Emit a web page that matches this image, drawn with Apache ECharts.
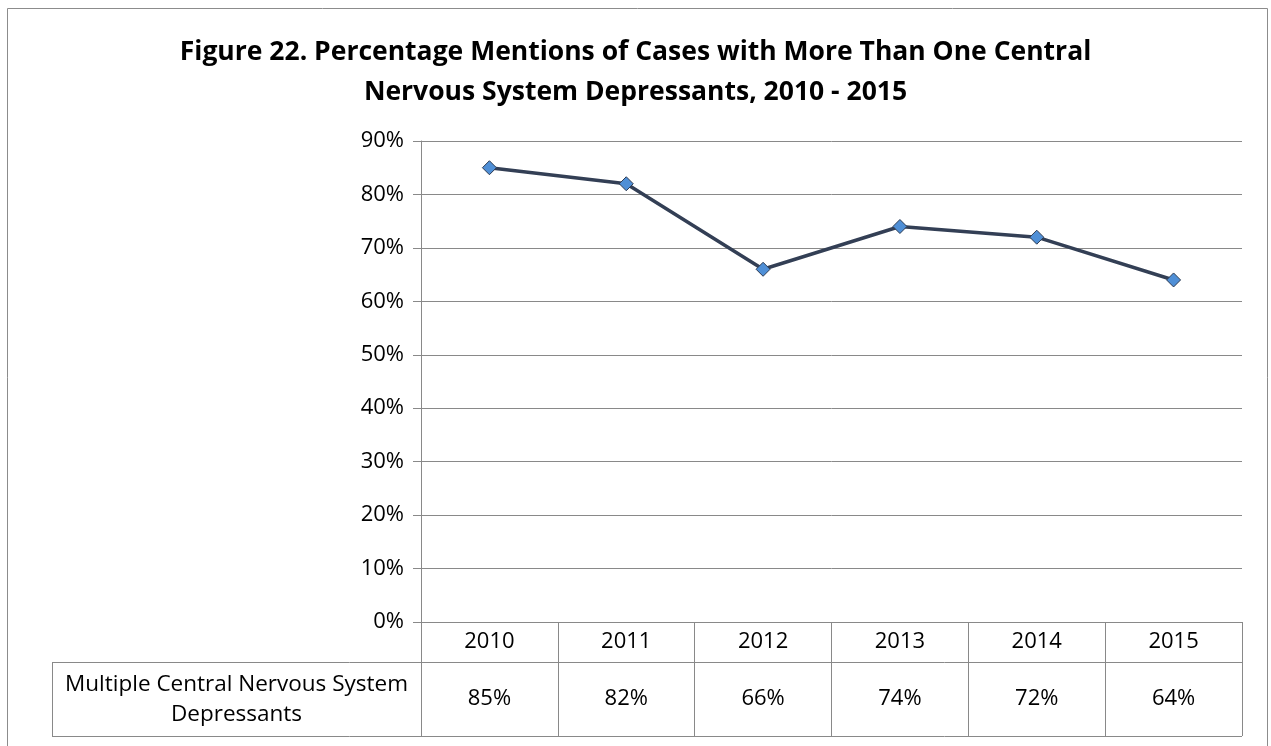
<!DOCTYPE html>
<html>
<head>
<meta charset="utf-8">
<script src="https://cdn.jsdelivr.net/npm/echarts@6/dist/echarts.min.js"></script>
<style>
  html, body { margin: 0; padding: 0; background: #fff; }
  #chart { width: 1271px; height: 746px; }
</style>
</head>
<body>
<div id="chart"></div>
<script>
/* data */
var years = ['2010', '2011', '2012', '2013', '2014', '2015'];
var mentions = [85, 82, 66, 74, 72, 64];
var seriesName = 'Multiple Central Nervous System\nDepressants';
var yTicks = { min: 0, max: 90, interval: 10 };

var titleText = 'Figure 22. Percentage Mentions of Cases with More Than One Central\nNervous System Depressants, 2010 - 2015';

var FONT = '"Open Sans", sans-serif';
var gridColor = '#898989';

// plot area in px
var plot = { left: 421, right: 1242, top: 141, bottom: 622 };
var tableBottom = 736;
var rowSplit = 662;
var tableLeft = 52;

var chart = echarts.init(document.getElementById('chart'));

var option = {
  backgroundColor: '#fff',
  animation: false,
  title: {
    text: titleText,
    left: 'center',
    top: 27,
    textStyle: {
      fontFamily: FONT,
      fontWeight: 'bold',
      fontSize: 26.5,
      lineHeight: 40,
      color: '#000'
    }
  },
  grid: {
    left: plot.left,
    right: 1271 - plot.right,
    top: plot.top,
    bottom: 746 - plot.bottom,
    containLabel: false
  },
  xAxis: [{
    type: 'category',
    data: years,
    position: 'bottom',
    boundaryGap: true,
    axisLine: { show: true, lineStyle: { color: gridColor, width: 1 } },
    axisTick: { show: true, inside: false, length: tableBottom - plot.bottom, lineStyle: { color: gridColor } },
    axisLabel: { color: '#000', fontFamily: FONT, fontSize: 22, margin: 9 },
    splitLine: { show: false }
  }, {
    type: 'category',
    data: mentions.map(function (v) { return v + '%'; }),
    position: 'bottom',
    offset: 58,
    boundaryGap: true,
    axisLine: { show: false },
    axisTick: { show: false },
    axisLabel: { color: '#000', fontFamily: FONT, fontSize: 22, margin: 8 },
    splitLine: { show: false }
  }],
  yAxis: {
    type: 'value',
    min: yTicks.min,
    max: yTicks.max,
    interval: yTicks.interval,
    axisLine: { show: true, lineStyle: { color: gridColor, width: 1 } },
    axisTick: { show: true, inside: false, length: 8, lineStyle: { color: gridColor } },
    axisLabel: { color: '#000', fontFamily: FONT, fontSize: 22, margin: 17, formatter: '{value}%' },
    splitLine: { show: true, lineStyle: { color: gridColor, width: 1 } }
  },
  series: [{
    name: seriesName,
    type: 'line',
    data: mentions,
    xAxisIndex: 0,
    symbol: 'diamond',
    symbolSize: 14,
    lineStyle: { color: '#333f55', width: 3.5 },
    itemStyle: { color: '#4f8fd6', borderColor: '#2d3b52', borderWidth: 1 }
  }],
  graphic: [
    // outer chart frame
    { type: 'rect', silent: true, shape: { x: 7.5, y: 8.5, width: 1260, height: 760 },
      style: { fill: null, stroke: '#8c8c8c', lineWidth: 1 } },
    // data table lines
    { type: 'line', silent: true, shape: { x1: tableLeft, y1: rowSplit + 0.5, x2: plot.right, y2: rowSplit + 0.5 },
      style: { stroke: gridColor, lineWidth: 1 } },
    { type: 'line', silent: true, shape: { x1: tableLeft, y1: tableBottom + 0.5, x2: plot.right, y2: tableBottom + 0.5 },
      style: { stroke: gridColor, lineWidth: 1 } },
    { type: 'line', silent: true, shape: { x1: tableLeft + 0.5, y1: rowSplit, x2: tableLeft + 0.5, y2: tableBottom },
      style: { stroke: gridColor, lineWidth: 1 } },
    // series name cell of the data table
    { type: 'text', silent: true, x: (tableLeft + plot.left) / 2, y: 700, style: {
        text: seriesName, font: '22.5px ' + FONT, fill: '#000',
        align: 'center', verticalAlign: 'middle', lineHeight: 30 } }
  ]
};

chart.setOption(option);
window.addEventListener('resize', function () { chart.resize(); });
</script>
</body>
</html>
